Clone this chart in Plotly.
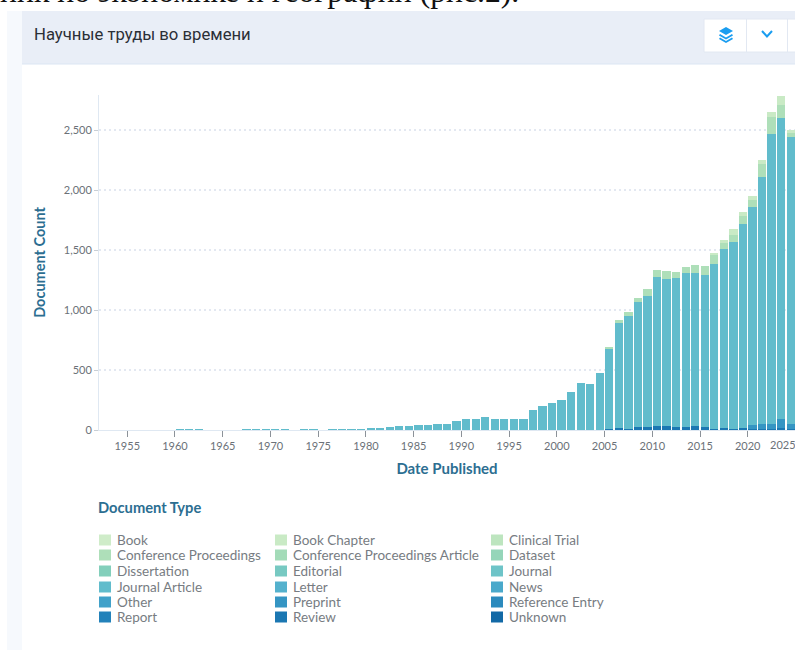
import plotly.graph_objects as go

years = list(range(1952, 2025))

review = [0]*53 + [10, 18, 10, 26, 28, 34, 34, 28, 28, 34, 24, 5, 18, 8, 18, 8, 12, 10, 14, 8]
preprint = [0]*68 + [36, 42, 38, 80, 38]
journal_article = [0, 0, 0, 0, 0, 0, 0, 0, 1, 1, 1, 0, 0, 0, 0, 1, 1, 1, 2, 1, 0, 1, 1, 0, 2, 2, 2, 2,
                   14, 16, 22, 36, 33, 42, 44, 53, 53, 75, 89, 90, 105, 90, 90, 90, 90, 167, 197, 225,
                   247, 317, 389, 386, 472, 671, 872, 943, 1041, 1089, 1239, 1225, 1242, 1278, 1278,
                   1268, 1380, 1492, 1563, 1700, 1816, 2056, 2423, 2507, 2394]
conference_proceedings = [0]*53 + [14, 24, 28, 36, 56, 61, 66, 47, 56, 66, 75, 78, 47, 58, 64, 58, 105, 139, 111, 36]
book_chapter = [0]*64 + [5, 30, 47, 36, 36, 33, 42, 75, 28]

legend_names = ["Book", "Book Chapter", "Clinical Trial",
                "Conference Proceedings", "Conference Proceedings Article", "Dataset",
                "Dissertation", "Editorial", "Journal",
                "Journal Article", "Letter", "News",
                "Other", "Preprint", "Reference Entry",
                "Report", "Review", "Unknown"]
legend_colors = ["#cfecc9", "#c9eac5", "#bde5bf", "#aedfb9", "#a3dbb8", "#95d5b9",
                 "#83cfbb", "#77c9c2", "#6ec4c8", "#61bccc", "#54b1cd", "#4aa9cb",
                 "#41a1c9", "#3595c3", "#2b8abd", "#2382ba", "#1b77b2", "#1269a6"]
y_ticks = [0, 500, 1000, 1500, 2000, 2500]
x_ticks = [1955, 1960, 1965, 1970, 1975, 1980, 1985, 1990, 1995, 2000, 2005, 2010, 2015, 2020]

FONT = "Lato"
L, R, T, B = 99, 795, 95, 430
def px(x): return (x - L) / (R - L)
def py(y): return (B - y) / (B - T)

fig = go.Figure()
color_of = dict(zip(legend_names, legend_colors))
for name, vals in [("Review", review), ("Preprint", preprint), ("Journal Article", journal_article),
                   ("Conference Proceedings", conference_proceedings), ("Book Chapter", book_chapter)]:
    fig.add_bar(x=[y + 0.5 for y in years], y=vals, name=name,
                marker=dict(color=color_of[name], line=dict(width=0)), showlegend=False)

shapes = []
def rect(x0, y0, x1, y1, fill, line=None, lw=1):
    shapes.append(dict(type="rect", xref="paper", yref="paper", x0=px(x0), x1=px(x1), y0=py(y0), y1=py(y1),
                       fillcolor=fill, line=dict(color=line or fill, width=lw if line else 0), layer="below"))

rect(7, 11, 22, 650, "#f6f9fd")
rect(22, 11, 795, 64, "#e9eef7")
rect(22, 63.5, 795, 64.5, "#dce6f3")
rect(704, 19, 800, 52, "#ffffff", "#e2e8f2")
rect(746, 19, 747, 52, "#e2e8f2")
rect(787, 19, 788, 52, "#e2e8f2")

ICON = "#1a9df0"
def poly(points, fill=None, line=None):
    d = "M " + " L ".join(f"{px(a):.5f},{py(b):.5f}" for a, b in points) + (" Z" if fill else "")
    shapes.append(dict(type="path", xref="paper", yref="paper", path=d,
                       fillcolor=fill or "rgba(0,0,0,0)", line=dict(color=line or fill, width=2 if line else 0)))
poly([(726, 27), (733, 31), (726, 35), (719, 31)], fill=ICON)
poly([(720, 34), (726, 37.5), (732, 34), (733, 35.5), (726, 39.5), (719, 35.5)], fill=ICON)
poly([(720, 37.5), (726, 41), (732, 37.5), (733, 39), (726, 43), (719, 39)], fill=ICON)
poly([(762, 31), (767, 36.5), (772, 31)], line=ICON)

annotations = [
    dict(text="ник по экономике и географии (рис.2).", x=px(-2), y=py(4), xref="paper", yref="paper",
         xanchor="left", yanchor="bottom", showarrow=False, yshift=-7,
         font=dict(family="Liberation Serif", size=31.7, color="#111111")),
    dict(text="Научные труды во времени", x=px(32), y=py(34), xref="paper", yref="paper",
         xanchor="left", yanchor="middle", showarrow=False,
         font=dict(family="Roboto", size=16.7, color="#2b2f36")),
    dict(text="2025", x=px(783), y=py(444), xref="paper", yref="paper", xanchor="center", yanchor="middle",
         showarrow=False, font=dict(family=FONT, size=11, color="#6b7178")),
    dict(text="Document Type", x=px(96), y=py(507), xref="paper", yref="paper", xanchor="left", yanchor="middle",
         showarrow=False, font=dict(family=FONT, size=14.7, color="#2c6e91", weight=700)),
]

col_x = [99, 275, 491]
row_y = [540, 555, 571, 587, 602, 617]
for i, (name, color) in enumerate(zip(legend_names, legend_colors)):
    cx, ry = col_x[i % 3], row_y[i // 3]
    rect(cx, ry - 5.5, cx + 12, ry + 5.5, color)
    annotations.append(dict(text=name, x=px(cx + 17), y=py(ry), xref="paper", yref="paper",
                            xanchor="left", yanchor="middle", showarrow=False, borderpad=0,
                            font=dict(family=FONT, size=13.5, color="#777c82")))

fig.update_layout(
    width=795, height=650, barmode="stack", bargap=0.13,
    margin=dict(l=L, r=795 - R, t=T, b=650 - B, pad=0),
    paper_bgcolor="#ffffff", plot_bgcolor="rgba(0,0,0,0)",
    font=dict(family=FONT), showlegend=False,
    shapes=shapes, annotations=annotations,
    xaxis=dict(range=[1952.04, 2024.95], tickmode="array", tickvals=x_ticks, ticks="outside", ticklen=6,
               tickcolor="#8c9299", tickwidth=1, showgrid=False, zeroline=False,
               showline=True, linecolor="#dfe8f2", linewidth=1,
               tickfont=dict(family=FONT, size=11, color="#6b7178"),
               title=dict(text="Date Published", standoff=12,
                          font=dict(family=FONT, size=15, color="#2c6e91", weight=700))),
    yaxis=dict(range=[0, 2792], tickmode="array", tickvals=y_ticks, tickformat=",", ticks="outside", ticklen=4,
               tickcolor="#c9ced4", showgrid=True, griddash="2px,3px", gridcolor="#e3e8f1", gridwidth=1.5,
               zeroline=False, showline=True, linecolor="#dfe8f2", linewidth=1,
               tickfont=dict(family=FONT, size=11, color="#6b7178"),
               title=dict(text="Document Count", standoff=14,
                          font=dict(family=FONT, size=14.5, color="#2c6e91", weight=700))),
)
fig.write_html("out.html", config=dict(displayModeBar=False),
               post_script="document.body.style.margin='0';document.body.style.overflow='hidden';")
